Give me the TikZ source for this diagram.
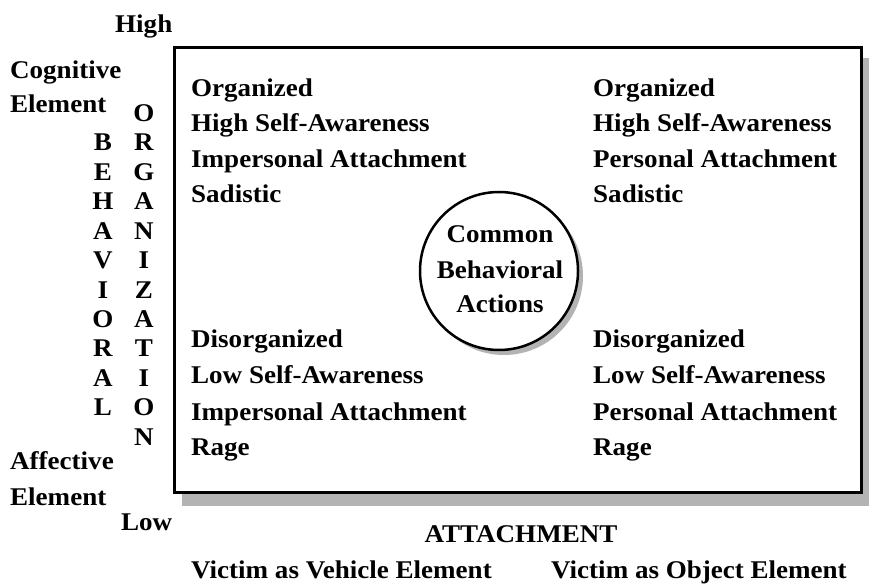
\documentclass[tikz,border=0pt]{standalone}
\usepackage{fontspec}
\setmainfont{Liberation Serif}[FakeStretch=1.06]
\definecolor{shadowgray}{HTML}{B3B3B3}
\tikzset{
  lab/.style={font=\bfseries\fontsize{25.5bp}{30bp}\selectfont, inner sep=0pt, anchor=base west},
  labc/.style={lab, anchor=base},
  frame/.style={draw=black, line width=3bp, fill=white},
  shade/.style={fill=shadowgray}
}
\begin{document}
\begin{tikzpicture}[x=1bp, y=-1bp]
\useasboundingbox (0,0) rectangle (869,587);
% main box with shadow
\fill[shade] (182,58) rectangle (869,506);
\draw[frame] (174.5,47.5) rectangle (861,492);
% circle with shadow
\fill[shade] (504,276) circle (79bp);
\node[circle, draw, line width=2.5bp, fill=white, minimum size=158bp, inner sep=0pt] (cba) at (499,271) {};
\node[labc] (c1) at (500,243) {Common};
\node[labc] (c2) at (500,278) {Behavioral};
\node[labc] (c3) at (500,312) {Actions};
% quadrants
\node[lab] (tl1) at (191,97) {Organized};
\node[lab] (tl2) at (191,132) {High Self-Awareness};
\node[lab] (tl3) at (191,168) {Impersonal Attachment};
\node[lab] (tl4) at (191,203) {Sadistic};
\node[lab] (tr1) at (593,97) {Organized};
\node[lab] (tr2) at (593,132) {High Self-Awareness};
\node[lab] (tr3) at (593,168) {Personal Attachment};
\node[lab] (tr4) at (593,203) {Sadistic};
\node[lab] (bl1) at (191,347) {Disorganized};
\node[lab] (bl2) at (191,383) {Low Self-Awareness};
\node[lab] (bl3) at (191,420) {Impersonal Attachment};
\node[lab] (bl4) at (191,455) {Rage};
\node[lab] (br1) at (593,347) {Disorganized};
\node[lab] (br2) at (593,383) {Low Self-Awareness};
\node[lab] (br3) at (593,420) {Personal Attachment};
\node[lab] (br4) at (593,455) {Rage};
% left labels
\node[lab] (high) at (115,33) {High};
\node[lab] (cog1) at (10,79) {Cognitive};
\node[lab] (cog2) at (10,113) {Element};
\node[lab] (aff1) at (10,469) {Affective};
\node[lab] (aff2) at (10,505) {Element};
\node[lab] (low) at (121,530) {Low};
\foreach \l [count=\i] in {B,E,H,A,V,I,O,R,A,L}
  \node[labc] (beh\i) at (103,{151+29.4*(\i-1)}) {\l};
\foreach \l [count=\i] in {O,R,G,A,N,I,Z,A,T,I,O,N}
  \node[labc] (org\i) at (144,{121.6+29.4*(\i-1)}) {\l};
% bottom labels
\node[labc] (att) at (521,542) {ATTACHMENT};
\node[lab] (veh) at (191,578) {Victim as Vehicle Element};
\node[lab] (obj) at (551,578) {Victim as Object Element};
\end{tikzpicture}
\end{document}
